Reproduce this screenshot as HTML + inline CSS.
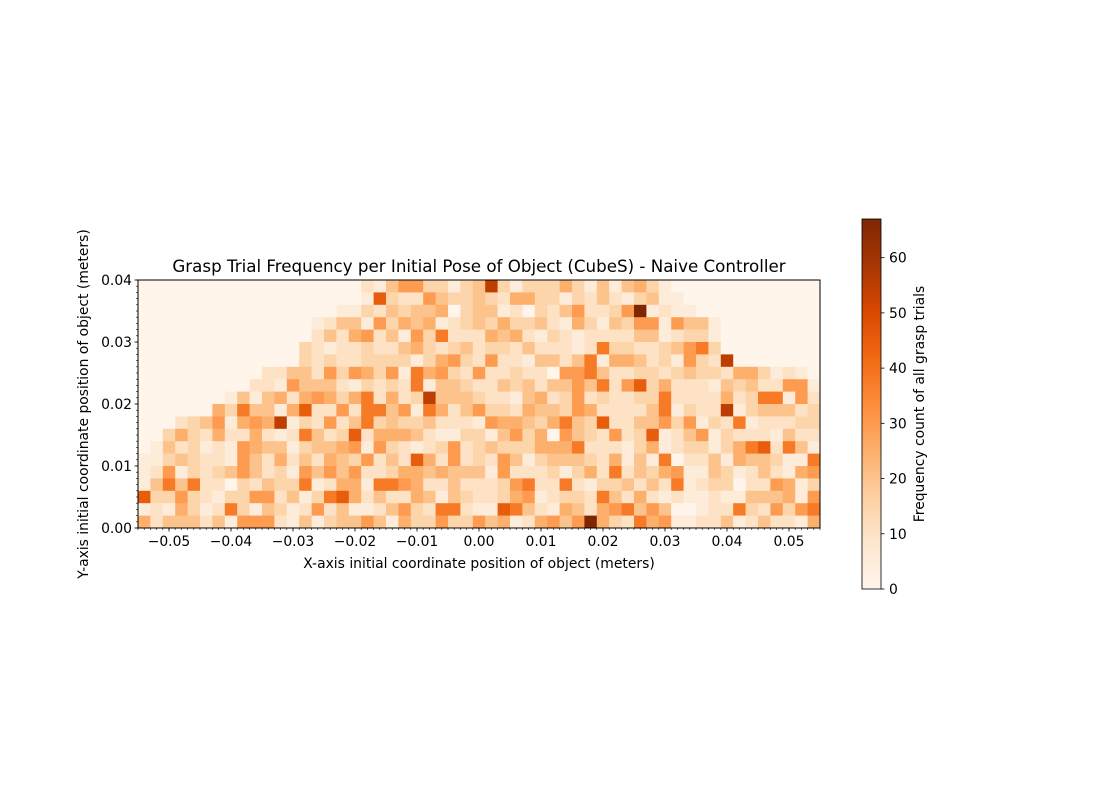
<!DOCTYPE html>
<html><head><meta charset="utf-8"><style>
html,body{margin:0;padding:0;background:#fff;}
svg{display:block;font-family:"DejaVu Sans","Liberation Sans",sans-serif;}
</style></head><body>
<svg id="chart" width="1100" height="800" xmlns="http://www.w3.org/2000/svg">
<text x="479" y="272" font-size="16.7" text-anchor="middle">Grasp Trial Frequency per Initial Pose of Object (CubeS) - Naive Controller</text>
<text x="479" y="568" font-size="13.9" text-anchor="middle">X-axis initial coordinate position of object (meters)</text>
<text transform="translate(88,404) rotate(-90)" font-size="13.9" text-anchor="middle">Y-axis initial coordinate position of object (meters)</text>
<text transform="translate(924,404) rotate(-90)" font-size="13.9" text-anchor="middle">Frequency count of all grasp trials</text>
<g id="cells"></g>
<g id="axes"></g>
<g id="cbar"></g>
</svg>
<script>
// Counts per cell, rows top (y=0.040) to bottom (y=0.000), 55 columns from x=-0.055
const gridRows = [
[0,0,0,0,0,0,0,0,0,0,0,0,0,0, 0,0,0,0,10,5,20,30,30,15,15,5,15,20, 55,15,5,15,15,15,25,15,5,20,5,20,25,15, 5,0,0,0,0,0,0,0,0,0,0,0,0],
[0,0,0,0,0,0,0,0,0,0,0,0,0,0, 0,0,0,0,5,45,15,10,10,30,20,15,15,20, 15,10,25,25,15,15,5,15,10,20,10,5,15,20, 5,5,0,0,0,0,0,0,0,0,0,0,0],
[0,0,0,0,0,0,0,0,0,0,0,0,0,0, 0,0,5,5,15,10,20,15,20,20,25,0,15,20, 20,5,10,0,15,10,20,30,10,10,15,30,67,5, 10,5,5,0,0,0,0,0,0,0,0,0,0],
[0,0,0,0,0,0,0,0,0,0,0,0,0,0, 5,10,20,20,5,30,15,25,20,25,5,10,15,20, 15,25,15,15,20,10,5,25,15,5,20,15,30,30, 5,30,20,20,5,0,0,0,0,0,0,0,0],
[0,0,0,0,0,0,0,0,0,0,0,0,0,0, 10,20,10,25,30,10,20,5,30,15,38,10,10,10, 25,20,25,10,5,15,10,5,10,10,10,10,20,20, 5,10,15,15,5,0,0,0,0,0,0,0,0],
[0,0,0,0,0,0,0,0,0,0,0,0,0,15, 10,5,10,10,15,10,10,20,25,15,10,15,20,10, 15,15,10,20,10,10,10,5,10,38,15,15,10,10, 15,20,30,38,15,0,0,0,0,0,0,0,0],
[0,0,0,0,0,0,0,0,0,0,0,0,0,15, 10,15,10,10,15,15,15,15,5,15,25,30,15,10, 30,10,10,5,20,20,10,20,38,5,25,25,20,10, 15,5,30,15,10,55,0,0,0,0,0,0,0],
[0,0,0,0,0,0,0,0,0,0,10,10,20,20, 10,30,15,30,25,15,30,5,38,25,30,15,10,30, 10,10,15,10,10,0,30,30,38,20,10,10,15,15, 10,15,20,15,15,10,25,25,15,5,10,5,0],
[0,0,0,0,0,0,0,0,0,10,10,5,30,20, 20,20,10,5,15,10,15,10,38,5,20,20,15,10, 10,20,15,20,10,20,20,30,20,38,10,30,45,15, 25,10,10,10,5,20,15,20,10,10,30,30,5],
[0,0,0,0,0,0,0,5,20,5,20,25,10,25, 30,25,15,25,38,10,25,10,15,55,20,20,20,15, 10,10,5,20,25,10,15,30,10,15,10,10,15,15, 38,10,10,10,10,25,10,15,38,38,5,30,10],
[0,0,0,0,0,0,25,15,38,20,20,5,25,45, 10,10,30,10,38,38,20,30,5,38,25,10,20,30, 15,15,10,25,20,20,15,30,25,10,10,10,10,20, 38,5,15,10,10,55,5,15,20,20,20,10,15],
[0,0,0,10,15,20,30,5,25,30,25,55,5,15, 10,30,10,20,38,15,20,15,15,20,10,10,10,5, 30,25,25,20,15,25,38,20,15,45,10,10,20,20, 30,15,30,5,15,10,38,5,10,10,10,15,15],
[0,0,15,25,15,10,25,10,10,25,10,5,10,38, 20,10,15,45,10,25,25,25,20,10,5,5,15,15, 5,20,30,15,25,0,30,20,15,10,30,10,15,45, 5,10,20,30,5,15,10,10,10,5,20,10,10],
[0,5,20,10,15,5,10,5,30,25,20,20,5,15, 20,20,25,30,5,30,15,10,5,10,15,30,10,15, 20,15,15,15,25,25,25,38,10,10,10,5,15,25, 5,10,15,15,5,15,25,38,45,10,38,20,5],
[5,5,15,20,15,10,10,5,30,20,10,25,10,20, 10,25,20,15,30,10,20,10,45,25,10,30,10,15, 10,30,20,5,15,20,20,20,15,10,25,5,20,5, 38,0,10,10,20,5,25,20,20,15,5,5,38],
[5,10,30,5,15,10,15,20,30,20,10,15,5,30, 20,30,20,30,10,10,15,25,25,20,25,20,20,20, 5,30,10,10,10,15,5,15,25,10,38,10,20,15, 25,30,5,5,20,15,5,10,20,10,5,25,30],
[5,20,38,20,38,10,10,0,15,10,20,15,15,38, 5,10,25,25,5,38,38,30,25,10,10,20,10,10, 10,15,30,38,10,10,38,10,5,15,15,20,10,20, 10,38,5,10,15,15,0,10,10,30,25,5,15],
[45,15,15,30,15,10,5,15,15,30,30,10,20,5, 15,38,45,25,10,20,10,10,25,20,5,20,15,10, 10,15,25,30,5,10,15,15,10,38,20,10,25,10, 5,10,5,5,10,5,5,20,20,20,25,5,30],
[5,10,5,25,15,5,10,38,15,5,20,15,5,10, 30,10,20,5,5,10,20,30,15,10,38,38,10,5, 5,45,38,20,10,5,25,20,10,25,30,38,20,30, 20,0,0,5,10,10,38,15,10,30,15,30,38],
[25,10,20,20,20,10,20,5,30,30,30,10,5,20, 5,15,20,20,30,20,5,25,15,15,30,15,15,30, 20,25,5,10,25,30,20,30,67,25,15,10,38,25, 30,5,5,10,10,20,5,10,20,10,10,5,25]
];
const xTickValues = [-0.05,-0.04,-0.03,-0.02,-0.01,0.00,0.01,0.02,0.03,0.04,0.05];
const xTickLabels = ["\u22120.05","\u22120.04","\u22120.03","\u22120.02","\u22120.01","0.00","0.01","0.02","0.03","0.04","0.05"];
const yTickValues = [0,0.01,0.02,0.03,0.04];
const yTickLabels = ["0.00","0.01","0.02","0.03","0.04"];
const cbarTickValues = [0,10,20,30,40,50,60];

const X0=-0.055,X1=0.055,Y0=0,Y1=0.04,VMAX=67;
const L=138,R=820,T=280,B=528;
const CL=862,CR=881,CT=219,CB=589;
const NS='http://www.w3.org/2000/svg';
function sx(v){return L+(v-X0)/(X1-X0)*(R-L);}
function sy(v){return B-(v-Y0)/(Y1-Y0)*(B-T);}
function cy(v){return CB-v/VMAX*(CB-CT);}
const stops=["#fff5eb","#fee6ce","#fdd0a2","#fdae6b","#fd8d3c","#f16913","#d94801","#a63603","#7f2704"];
function hex(h){return [1,3,5].map(i=>parseInt(h.substr(i,2),16));}
function color(v){let t=Math.max(0,Math.min(1,v/VMAX))*(stops.length-1);let i=Math.min(Math.floor(t),stops.length-2);let f=t-i;let a=hex(stops[i]),b=hex(stops[i+1]);return 'rgb('+a.map((c,k)=>Math.round(c+(b[k]-c)*f)).join(',')+')';}
function mk(tag,attrs,parent){const e=document.createElementNS(NS,tag);for(const k in attrs)e.setAttribute(k,attrs[k]);parent.appendChild(e);return e;}

const cells=document.getElementById('cells');
const nR=gridRows.length,nC=gridRows[0].length;
const dx=(X1-X0)/nC,dy=(Y1-Y0)/nR;
gridRows.forEach((row,r)=>{row.forEach((v,c)=>{
  const x=sx(X0+c*dx),x2=sx(X0+(c+1)*dx);
  const yTop=Y1-r*dy;
  const y=sy(yTop),y2=sy(yTop-dy);
  const e=mk('rect',{x:x,y:y,width:x2-x+0.4,height:y2-y+0.4,fill:color(v)},cells);
  
  
});});

const axes=document.getElementById('axes');
const frame=mk('rect',{x:L,y:T,width:R-L,height:B-T,fill:'none',stroke:'#000','stroke-width':1},axes);


for(let i=-55;i<=55;i++){const v=i/1000;const x=sx(v);mk('line',{x1:x,x2:x,y1:B,y2:B+2,stroke:'#000','stroke-width':0.6},axes);}
for(let i=0;i<=40;i++){const v=i/1000;const y=sy(v);mk('line',{x1:L,x2:L-2,y1:y,y2:y,stroke:'#000','stroke-width':0.6},axes);}
xTickValues.forEach((v,i)=>{const x=sx(v);mk('line',{x1:x,x2:x,y1:B,y2:B+3.5,stroke:'#000','stroke-width':0.8},axes);
  const t=mk('text',{x:x,y:B+18,'font-size':13.9,'text-anchor':'middle'},axes);t.textContent=xTickLabels[i];
  
  });
yTickValues.forEach((v,i)=>{const y=sy(v);mk('line',{x1:L,x2:L-3.5,y1:y,y2:y,stroke:'#000','stroke-width':0.8},axes);
  const t=mk('text',{x:L-6,y:y+5,'font-size':13.9,'text-anchor':'end'},axes);t.textContent=yTickLabels[i];
  
  });

const cbar=document.getElementById('cbar');
const defs=mk('defs',{},cbar);
const g=mk('linearGradient',{id:'cg',x1:0,y1:1,x2:0,y2:0},defs);
stops.forEach((s,i)=>mk('stop',{offset:i/(stops.length-1),'stop-color':s},g));
const cb=mk('rect',{x:CL,y:CT,width:CR-CL,height:CB-CT,fill:'url(#cg)',stroke:'#000','stroke-width':0.8},cbar);


cbarTickValues.forEach(v=>{const y=cy(v);mk('line',{x1:CR,x2:CR+3.5,y1:y,y2:y,stroke:'#000','stroke-width':0.8},cbar);
  const t=mk('text',{x:CR+8,y:y+5,'font-size':13.9},cbar);t.textContent=String(v);
  
  });
</script>
</body></html>
